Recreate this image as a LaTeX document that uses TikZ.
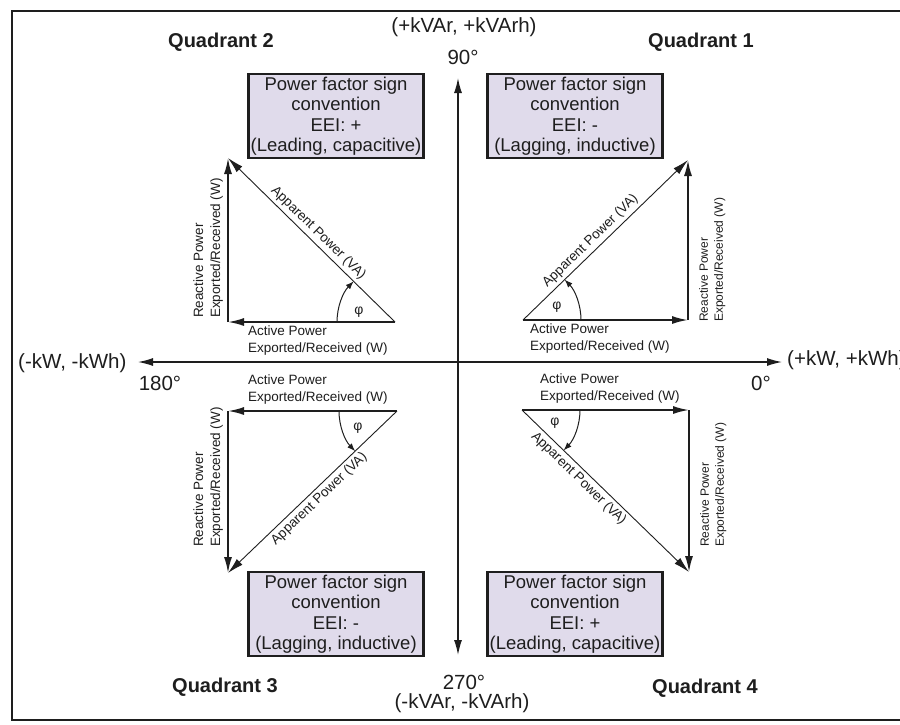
\documentclass[tikz,border=0pt]{standalone}
\usepackage{fontspec}
\setmainfont{Liberation Sans}
\usetikzlibrary{arrows.meta}
\definecolor{boxfill}{RGB}{224,219,235}
\definecolor{ink}{RGB}{30,30,30}
\begin{document}
\begin{tikzpicture}[x=1pt,y=-1pt,
  every node/.style={text=ink, inner sep=0pt},
  vec/.style={draw=ink, line width=1.8pt, -{Latex[length=16pt,width=8pt]}},
  hyp/.style={draw=ink, line width=0.9pt, -{Latex[length=16pt,width=8pt]}},
  axis/.style={draw=ink, line width=1.3pt, {Latex[length=15pt,width=8pt]}-{Latex[length=15pt,width=8pt]}},
  pfbox/.style={draw=ink, line width=2.2pt, fill=boxfill, minimum width=175pt, minimum height=84pt, align=center, font=\fontsize{18.5}{20.5}\selectfont},
  small/.style={font=\fontsize{13.5}{17}\selectfont, align=left},
  smallv/.style={font=\fontsize{12}{15}\selectfont, align=left},
  axlab/.style={font=\fontsize{20.5}{23}\selectfont},
  quad/.style={font=\bfseries\fontsize{20}{24}\selectfont},
  arcarrow/.style={draw=ink, line width=1pt, -{Latex[length=8pt,width=6pt]}},
  philab/.style={font=\fontsize{14}{16}\selectfont},
]
\useasboundingbox (0,0) rectangle (900,724);
\fill[white] (0,0) rectangle (900,724);
\draw[draw=ink, line width=1.4pt] (12,11) rectangle (910,720);

% axes
\coordinate (W) at (138,362);
\coordinate (E) at (782,362);
\coordinate (N) at (458,78);
\coordinate (S) at (458,655);
\draw[axis] (W) -- (E);
\draw[axis] (S) -- (N);

\node[axlab, anchor=west] (lw) at (18,363) {(-kW, -kWh)};
\node[axlab] (l180) at (160,383) {180°};
\node[axlab, anchor=west] (le) at (787,360) {(+kW, +kWh)};
\node[axlab] (l0) at (761,383) {0°};
\node[axlab] (ln) at (464,27) {(+kVAr, +kVArh)};
\node[axlab] (l90) at (463,57) {90°};
\node[axlab] (l270) at (464,682) {270°};
\node[axlab] (ls) at (462,703) {(-kVAr, -kVArh)};

% quadrant labels
\node[quad] (q2) at (221,42) {Quadrant 2};
\node[quad] (q1) at (701,42) {Quadrant 1};
\node[quad] (q3) at (225,687) {Quadrant 3};
\node[quad] (q4) at (705,688) {Quadrant 4};

% boxes
\node[pfbox] (b2) at (336,116) {Power factor sign\\convention\\EEI: +\\(Leading, capacitive)};
\node[pfbox] (b1) at (575,116) {Power factor sign\\convention\\EEI: -\\(Lagging, inductive)};
\node[pfbox] (b3) at (336,614) {Power factor sign\\convention\\EEI: -\\(Lagging, inductive)};
\node[pfbox] (b4) at (575,614) {Power factor sign\\convention\\EEI: +\\(Leading, capacitive)};

% Quadrant 2 triangle
\coordinate (A2) at (395,322);
\coordinate (B2) at (228,322);
\coordinate (T2) at (228,158);
\draw[vec] (A2) -- (B2);
\draw[vec] (B2) -- (T2);
\draw[hyp] (A2) -- (T2) node[pos=0.5, sloped, above=3pt, small] (h2) {Apparent Power (VA)};
\draw[arcarrow] (337,322) arc[start angle=180, end angle=224.5, radius=58];
\node[philab] (p2) at (359,312) {φ};
\node[small, anchor=north west] (a2) at (248,326) {Active Power\\Exported/Received (W)};
\node[small, rotate=90, anchor=south west] (r2) at (223,318) {Reactive Power\\Exported/Received (W)};

% Quadrant 1 triangle
\coordinate (A1) at (523,320);
\coordinate (B1) at (688,320);
\coordinate (T1) at (688,160);
\draw[vec] (A1) -- (B1);
\draw[vec] (B1) -- (T1);
\draw[hyp] (A1) -- (T1) node[pos=0.45, sloped, above=3pt, small] (h1) {Apparent Power (VA)};
\draw[arcarrow] (581,320) arc[start angle=0, end angle=-44.1, radius=58];
\node[philab] (p1) at (557,307) {φ};
\node[small, anchor=north west] (a1) at (530,324) {Active Power\\Exported/Received (W)};
\node[smallv, rotate=90, anchor=north west] (r1) at (699,322) {Reactive Power\\Exported/Received (W)};

% Quadrant 3 triangle
\coordinate (A3) at (397,411);
\coordinate (B3) at (228,411);
\coordinate (T3) at (228,573);
\draw[vec] (A3) -- (B3);
\draw[vec] (B3) -- (T3);
\draw[hyp] (A3) -- (T3) node[pos=0.5, sloped, below=3pt, small] (h3) {Apparent Power (VA)};
\draw[arcarrow] (339,411) arc[start angle=180, end angle=136.2, radius=58];
\node[philab] (p3) at (358,428) {φ};
\node[small, anchor=south west] (a3) at (248,404) {Active Power\\Exported/Received (W)};
\node[small, rotate=90, anchor=south west] (r3) at (223,547) {Reactive Power\\Exported/Received (W)};

% Quadrant 4 triangle
\coordinate (A4) at (522,410);
\coordinate (B4) at (689,410);
\coordinate (T4) at (689,572);
\draw[vec] (A4) -- (B4);
\draw[vec] (B4) -- (T4);
\draw[hyp] (A4) -- (T4) node[pos=0.38, sloped, below=3pt, small] (h4) {Apparent Power (VA)};
\draw[arcarrow] (580,410) arc[start angle=0, end angle=44.1, radius=58];
\node[philab] (p4) at (555,423) {φ};
\node[small, anchor=south west] (a4) at (540,403) {Active Power\\Exported/Received (W)};
\node[smallv, rotate=90, anchor=north west] (r4) at (700,547) {Reactive Power\\Exported/Received (W)};
\end{tikzpicture}
\end{document}
